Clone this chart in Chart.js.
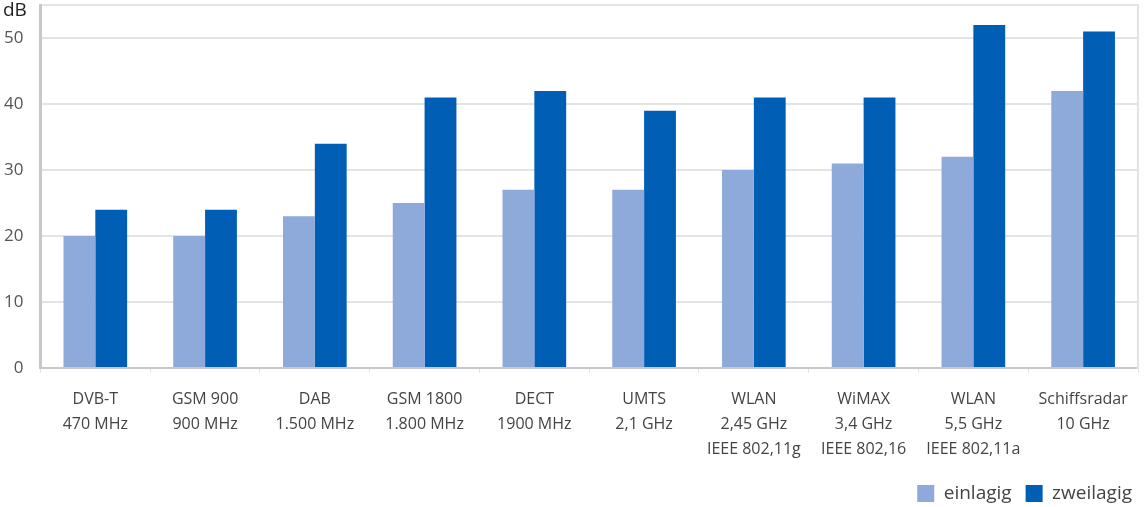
<!DOCTYPE html>
<html>
<head>
<meta charset="utf-8">
<script src="https://cdn.jsdelivr.net/npm/chart.js@4"></script>
<style>
    html, body { margin: 0; padding: 0; background: #fff; }
    #wrap { width: 1148px; height: 507px; }
</style>
</head>
<body>
<div id="wrap"><canvas id="chart"></canvas></div>
<script>
// ---- Data ----
const categories = [
    ['DVB-T', '470 MHz'],
    ['GSM 900', '900 MHz'],
    ['DAB', '1.500 MHz'],
    ['GSM 1800', '1.800 MHz'],
    ['DECT', '1900 MHz'],
    ['UMTS', '2,1 GHz'],
    ['WLAN', '2,45 GHz', 'IEEE 802,11g'],
    ['WiMAX', '3,4 GHz', 'IEEE 802,16'],
    ['WLAN', '5,5 GHz', 'IEEE 802,11a'],
    ['Schiffsradar', '10 GHz']
];
const einlagig = [20, 20, 23, 25, 27, 27, 30, 31, 32, 42];
const zweilagig = [24, 24, 34, 41, 42, 39, 41, 41, 52, 51];
const yTicks = [0, 10, 20, 30, 40, 50];
const yMax = 55;
const yUnit = 'dB';

const FONT = '"Open Sans", "DejaVu Sans", sans-serif';
const GRID = '#e4e4e4';

// unit text in the top-left corner, next to the value axis
const unitLabel = {
    id: 'unitLabel',
    afterDraw(chart) {
        const ctx = chart.ctx;
        ctx.save();
        ctx.font = '19px ' + FONT;
        ctx.fillStyle = '#222';
        ctx.textAlign = 'left';
        ctx.textBaseline = 'top';
        ctx.fillText(yUnit, 3, 1);
        ctx.restore();
    }
};

// keep the last label line from being clipped by the tightened axis box
const labelRoom = {
    id: 'labelRoom',
    afterLayout(chart) {
        chart.scales.x.bottom = chart.height;
    }
};

new Chart(document.getElementById('chart'), {
    type: 'bar',
    data: {
        labels: categories,
        datasets: [
            { label: 'einlagig', data: einlagig, backgroundColor: '#8eaadb' },
            { label: 'zweilagig', data: zweilagig, backgroundColor: '#005eb5' }
        ]
    },
    plugins: [unitLabel, labelRoom],
    options: {
        responsive: true,
        maintainAspectRatio: false,
        animation: false,
        categoryPercentage: 0.58,
        barPercentage: 1.0,
        layout: { padding: { left: 4, right: 2, top: 0, bottom: -6 } },
        plugins: {
            tooltip: { enabled: false },
            legend: {
                position: 'bottom',
                align: 'end',
                labels: {
                    boxWidth: 17,
                    boxHeight: 17,
                    padding: 14,
                    color: '#444',
                    font: { family: FONT, size: 19 }
                }
            }
        },
        scales: {
            x: {
                afterFit: axis => { axis.height -= 6; },
                grid: { display: true, drawOnChartArea: false, tickLength: 5, color: GRID },
                border: { color: '#c8c8c8', width: 2 },
                ticks: {
                    color: '#444',
                    padding: 14,
                    maxRotation: 0,
                    autoSkip: false,
                    font: { family: FONT, size: 16, lineHeight: 1.5625 }
                }
            },
            y: {
                min: 0,
                max: yMax,
                afterBuildTicks: axis => {
                    axis.ticks = yTicks.concat([yMax]).map(v => ({ value: v }));
                },
                grid: { color: GRID, lineWidth: 2, drawTicks: true, tickLength: 17, tickColor: 'rgba(0,0,0,0)' },
                border: { color: '#c8c8c8', width: 3 },
                ticks: {
                    padding: 0,
                    color: '#555',
                    font: { family: FONT, size: 17, lineHeight: 0.6 },
                    callback: v => v === yMax ? '' : v
                }
            },
            yRight: {
                position: 'right',
                min: 0,
                max: yMax,
                grid: { display: false },
                border: { color: GRID, width: 2 },
                ticks: { display: false }
            }
        }
    }
});
</script>
</body>
</html>
